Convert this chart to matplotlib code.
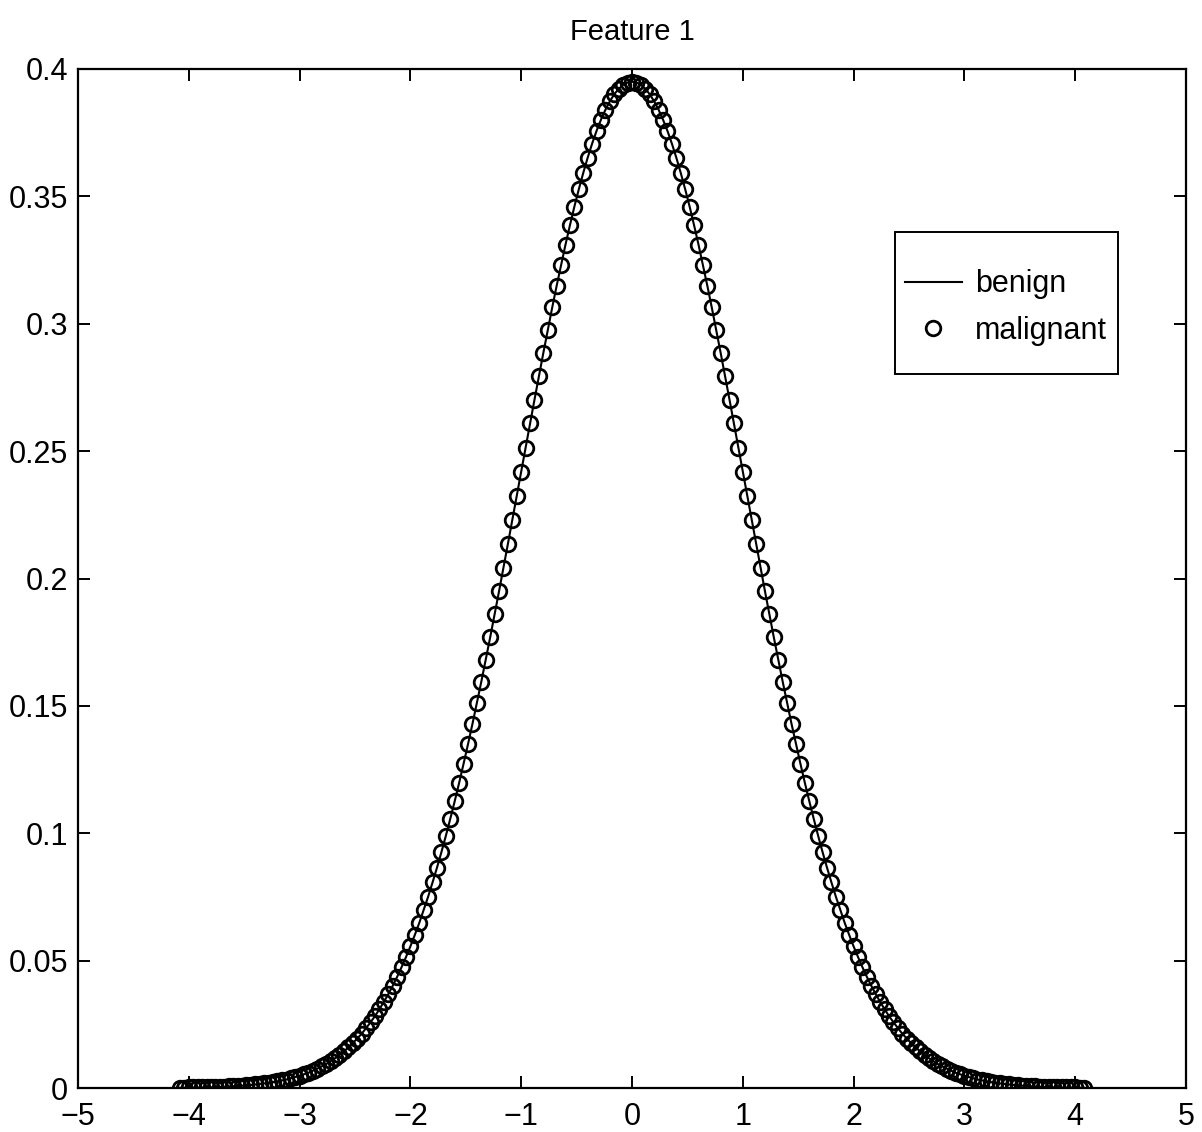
import matplotlib
matplotlib.use("Agg")
import matplotlib.pyplot as plt
from matplotlib import font_manager
from matplotlib.patches import Rectangle

# ---------------- data ----------------
x_vals = [
    -4.08, -4.04, -4.00, -3.96, -3.92, -3.88, -3.84, -3.80, -3.76, -3.72,
    -3.68, -3.64, -3.60, -3.56, -3.52, -3.48, -3.44, -3.40, -3.36, -3.32,
    -3.28, -3.24, -3.20, -3.16, -3.12, -3.08, -3.04, -3.00, -2.96, -2.92,
    -2.88, -2.84, -2.80, -2.76, -2.72, -2.68, -2.64, -2.60, -2.56, -2.52,
    -2.48, -2.44, -2.40, -2.36, -2.32, -2.28, -2.24, -2.20, -2.16, -2.12,
    -2.08, -2.04, -2.00, -1.96, -1.92, -1.88, -1.84, -1.80, -1.76, -1.72,
    -1.68, -1.64, -1.60, -1.56, -1.52, -1.48, -1.44, -1.40, -1.36, -1.32,
    -1.28, -1.24, -1.20, -1.16, -1.12, -1.08, -1.04, -1.00, -0.96, -0.92,
    -0.88, -0.84, -0.80, -0.76, -0.72, -0.68, -0.64, -0.60, -0.56, -0.52,
    -0.48, -0.44, -0.40, -0.36, -0.32, -0.28, -0.24, -0.20, -0.16, -0.12,
    -0.08, -0.04, 0.00, 0.04, 0.08, 0.12, 0.16, 0.20, 0.24, 0.28,
    0.32, 0.36, 0.40, 0.44, 0.48, 0.52, 0.56, 0.60, 0.64, 0.68,
    0.72, 0.76, 0.80, 0.84, 0.88, 0.92, 0.96, 1.00, 1.04, 1.08,
    1.12, 1.16, 1.20, 1.24, 1.28, 1.32, 1.36, 1.40, 1.44, 1.48,
    1.52, 1.56, 1.60, 1.64, 1.68, 1.72, 1.76, 1.80, 1.84, 1.88,
    1.92, 1.96, 2.00, 2.04, 2.08, 2.12, 2.16, 2.20, 2.24, 2.28,
    2.32, 2.36, 2.40, 2.44, 2.48, 2.52, 2.56, 2.60, 2.64, 2.68,
    2.72, 2.76, 2.80, 2.84, 2.88, 2.92, 2.96, 3.00, 3.04, 3.08,
    3.12, 3.16, 3.20, 3.24, 3.28, 3.32, 3.36, 3.40, 3.44, 3.48,
    3.52, 3.56, 3.60, 3.64, 3.68, 3.72, 3.76, 3.80, 3.84, 3.88,
    3.92, 3.96, 4.00, 4.04, 4.08,
]

malignant_vals = [
    0.0001, 0.0001, 0.0002, 0.0002, 0.0002, 0.0002, 0.0003, 0.0003, 0.0004, 0.0004,
    0.0005, 0.0006, 0.0007, 0.0008, 0.0009, 0.0010, 0.0012, 0.0014, 0.0016, 0.0018,
    0.0020, 0.0023, 0.0026, 0.0030, 0.0033, 0.0038, 0.0043, 0.0048, 0.0054, 0.0060,
    0.0068, 0.0076, 0.0085, 0.0094, 0.0105, 0.0117, 0.0130, 0.0144, 0.0159, 0.0176,
    0.0194, 0.0213, 0.0235, 0.0258, 0.0282, 0.0309, 0.0338, 0.0368, 0.0401, 0.0436,
    0.0474, 0.0514, 0.0556, 0.0601, 0.0648, 0.0699, 0.0751, 0.0807, 0.0865, 0.0926,
    0.0990, 0.1057, 0.1126, 0.1198, 0.1273, 0.1350, 0.1429, 0.1511, 0.1595, 0.1681,
    0.1769, 0.1859, 0.1950, 0.2042, 0.2136, 0.2230, 0.2325, 0.2420, 0.2514, 0.2609,
    0.2702, 0.2795, 0.2886, 0.2976, 0.3064, 0.3149, 0.3231, 0.3311, 0.3387, 0.3460,
    0.3528, 0.3592, 0.3652, 0.3707, 0.3757, 0.3801, 0.3840, 0.3873, 0.3901, 0.3922,
    0.3938, 0.3947, 0.3950, 0.3947, 0.3938, 0.3922, 0.3901, 0.3873, 0.3840, 0.3801,
    0.3757, 0.3707, 0.3652, 0.3592, 0.3528, 0.3460, 0.3387, 0.3311, 0.3231, 0.3149,
    0.3064, 0.2976, 0.2886, 0.2795, 0.2702, 0.2609, 0.2514, 0.2420, 0.2325, 0.2230,
    0.2136, 0.2042, 0.1950, 0.1859, 0.1769, 0.1681, 0.1595, 0.1511, 0.1429, 0.1350,
    0.1273, 0.1198, 0.1126, 0.1057, 0.0990, 0.0926, 0.0865, 0.0807, 0.0751, 0.0699,
    0.0648, 0.0601, 0.0556, 0.0514, 0.0474, 0.0436, 0.0401, 0.0368, 0.0338, 0.0309,
    0.0282, 0.0258, 0.0235, 0.0213, 0.0194, 0.0176, 0.0159, 0.0144, 0.0130, 0.0117,
    0.0105, 0.0094, 0.0085, 0.0076, 0.0068, 0.0060, 0.0054, 0.0048, 0.0043, 0.0038,
    0.0033, 0.0030, 0.0026, 0.0023, 0.0020, 0.0018, 0.0016, 0.0014, 0.0012, 0.0010,
    0.0009, 0.0008, 0.0007, 0.0006, 0.0005, 0.0004, 0.0004, 0.0003, 0.0003, 0.0002,
    0.0002, 0.0002, 0.0002, 0.0001, 0.0001,
]

benign_vals = list(malignant_vals)

x_ticks = [-5, -4, -3, -2, -1, 0, 1, 2, 3, 4, 5]
y_ticks = [0, 0.05, 0.1, 0.15, 0.2, 0.25, 0.3, 0.35, 0.4]
y_tick_labels = ["0", "0.05", "0.1", "0.15", "0.2", "0.25", "0.3", "0.35", "0.4"]
title_text = "Feature 1"
legend_labels = ["benign", "malignant"]

# ---------------- style ----------------
available = {f.name for f in font_manager.fontManager.ttflist}
fam = [f for f in ["Liberation Sans Narrow", "Liberation Sans", "DejaVu Sans"] if f in available]
plt.rcParams["font.family"] = fam

fig = plt.figure(figsize=(12.02, 11.32), dpi=100)
ax = fig.add_axes([78 / 1202, 44 / 1132, (1186 - 78) / 1202, (1088 - 69) / 1132])

ax.plot(x_vals, malignant_vals, linestyle="none", marker="o", markersize=10.5,
        markerfacecolor="none", markeredgecolor="black", markeredgewidth=2.0,
        label=legend_labels[1], zorder=2)
ax.plot(x_vals, benign_vals, color="black", linewidth=1.5, label=legend_labels[0], zorder=3)

ax.set_xlim(-5, 5)
ax.set_ylim(0, 0.4)
ax.set_xticks(x_ticks)
ax.set_xticklabels([("\u2212" + str(abs(t))) if t < 0 else str(t) for t in x_ticks])
ax.set_yticks(y_ticks)
ax.set_yticklabels(y_tick_labels)

for s in ax.spines.values():
    s.set_linewidth(1.6)
ax.tick_params(direction="in", length=8.5, width=1.4, labelsize=22,
               top=True, right=True)
ax.tick_params(axis="y", pad=7)
ax.tick_params(axis="x", pad=10)

ax.set_title(title_text, fontsize=21, pad=21)

# legend box (drawn as a plain square frame)
box_l, box_b, box_r, box_t = 0.7374, 0.7007, 0.9386, 0.8400
ax.add_patch(Rectangle((box_l, box_b), box_r - box_l, box_t - box_b,
                       transform=ax.transAxes, facecolor="white",
                       edgecolor="black", linewidth=1.4, zorder=5))

handles, labels = ax.get_legend_handles_labels()
order = [1, 0]
leg = ax.legend([handles[i] for i in order], [labels[i] for i in order],
                loc="center left", bbox_to_anchor=(0.7464, 0.7660),
                fontsize=22, frameon=False, borderpad=0, labelspacing=0.54,
                handlelength=1.86, handletextpad=0.43, borderaxespad=0)
leg.set_zorder(6)

fig.savefig("out.png", dpi=100, facecolor="white")
